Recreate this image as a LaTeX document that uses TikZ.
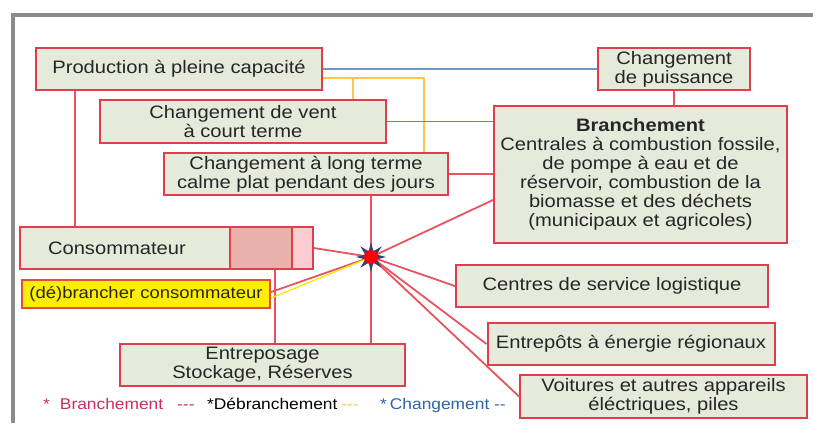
\documentclass[tikz,border=0pt]{standalone}
\usepackage{fontspec}
\setmainfont[FakeStretch=1.12]{Liberation Sans}
\usetikzlibrary{positioning}
\usetikzlibrary{shapes.geometric}
\definecolor{boxfill}{RGB}{229,234,219}
\definecolor{boxred}{RGB}{222,62,78}
\definecolor{linered}{RGB}{232,84,94}
\definecolor{lineblue}{RGB}{110,150,200}
\definecolor{lineyellow}{RGB}{250,200,70}
\definecolor{conspink}{RGB}{232,178,170}
\definecolor{conslight}{RGB}{250,205,208}
\definecolor{debrfill}{RGB}{255,238,0}
\definecolor{hubblue}{RGB}{60,60,110}
\definecolor{legred}{RGB}{205,45,90}
\definecolor{legblue}{RGB}{45,100,170}
\definecolor{framegray}{RGB}{110,110,110}

\begin{document}
\begin{tikzpicture}[
    x=1pt, y=-1pt,
    block/.style={rectangle, draw=boxred, line width=2pt, fill=boxfill, align=center, inner sep=0pt, font=\fontsize{18}{19}\selectfont, text=black!85},
    pblock/.style={rectangle, draw=boxred, line width=1.5pt, fill=conspink, inner sep=0pt, minimum height=42pt},
    yblock/.style={block, fill=debrfill, draw=boxred!80!orange, font=\fontsize{16.5}{18}\selectfont},
    hubstar/.style={star, star points=8, star point ratio=2.4, minimum size=30pt, fill=hubblue, draw=none, inner sep=0pt},
    link/.style={draw=linered, line width=1.8pt},
    blink/.style={draw=lineblue, line width=1.8pt},
    ylink/.style={draw=lineyellow, line width=1.8pt},
    legend/.style={anchor=base west, inner sep=0pt, font=\fontsize{15.5}{16}\selectfont}
]
\useasboundingbox (0,0) rectangle (813,423);

% frame
\draw[framegray!80, line width=3.2pt] (13,423) -- (13,15) -- (813,15);

\node[block, minimum width=286pt, minimum height=42pt] (prod) at (179,69) {Production à pleine capacité};
\node[block, minimum width=152pt, minimum height=42pt] (puiss) at (674,69) {Changement\\de puissance};
\node[block, minimum width=286pt, minimum height=43pt] (vent) at (243,121.5) {Changement de vent\\à court terme};
\node[block, minimum width=284pt, minimum height=42pt] (long) at (306,174) {Changement à long terme\\calme plat pendant des jours};
\node[block, minimum width=293pt, minimum height=137pt] (branch) at (640.5,174.5) {\textbf{Branchement}\\Centrales à combustion fossile,\\de pompe à eau et de\\réservoir, combustion de la\\biomasse et des déchets\\(municipaux et agricoles)};
\node[block, inner xsep=28pt, text width=237pt, align=left, minimum height=42pt] (conso) at (166.5,248) {Consommateur};
\node[pblock, minimum width=62pt] (consA) at (261,248) {};
\node[pblock, minimum width=21pt, fill=conslight] (consB) at (302.5,248) {};
\node[yblock, minimum width=248pt, minimum height=28pt] (debr) at (146,294) {(dé)brancher consommateur};
\node[block, minimum width=285pt, minimum height=42pt] (entre) at (262.5,365) {Entreposage\\Stockage, Réserves};
\node[block, minimum width=312pt, minimum height=42pt] (centres) at (612,286) {Centres de service logistique};
\node[block, minimum width=287pt, minimum height=42pt] (entrep) at (631,344) {Entrepôts à énergie régionaux};
\node[block, minimum width=287pt, minimum height=43pt] (voit) at (663.5,396.5) {Voitures et autres appareils\\éléctriques, piles};

\coordinate (c75) at (75,0);
\coordinate (c275) at (275,0);
\coordinate (yj) at (353,78);
\coordinate (hubpos) at (371,257);

% connectors
\draw[blink] (prod.east) -- (puiss.west);
\draw[ylink] ([yshift=-9pt]prod.east) -| ([xshift=-25pt]long.north east);
\draw[ylink] (yj) -- (yj |- vent.north);
\draw[link] (vent.east) -- (vent.east -| branch.west);
\draw[link] (long.east) -- (long.east -| branch.west);
\draw[link] (puiss.south) -- (puiss.south |- branch.north);
\draw[link] (prod.south -| c75) -- (conso.north -| c75);
\draw[link] (long.south -| hubpos) -- (entre.north -| hubpos);
\draw[link] (consA.south -| c275) -- (entre.north -| c275);
\draw[link] (consB.east) -- (hubpos);
\draw[link] (hubpos) -- ([yshift=-25.5pt]branch.west);
\draw[link] (hubpos) -- (centres.west);
\draw[link] (hubpos) -- (entrep.west);
\draw[link] (hubpos) -- (voit.west);
\draw[link] (hubpos) -- ([yshift=2pt]debr.east);
\draw[ylink, draw=yellow!90!orange, line width=1.3pt] (hubpos) -- ([yshift=-4pt]debr.east);

\node[hubstar] (hub) at (hubpos) {};
\fill[red] (hub.center) circle (7pt);

% legend
\node[legend, text=legred] (lbr) at (43,409) {*\hspace{10pt}Branchement};
\node[legend, text=legred] (ldash1) at (177,409) {-{}-{}-};
\node[legend, text=black] (ldeb) at (207,409) {*Débranchement};
\node[legend, text=lineyellow] (ldash2) at (341,409) {-{}-{}-};
\node[legend, text=legblue] (lch) at (380,409) {*\hspace{3pt}Changement -{}-};

\end{tikzpicture}
\end{document}
